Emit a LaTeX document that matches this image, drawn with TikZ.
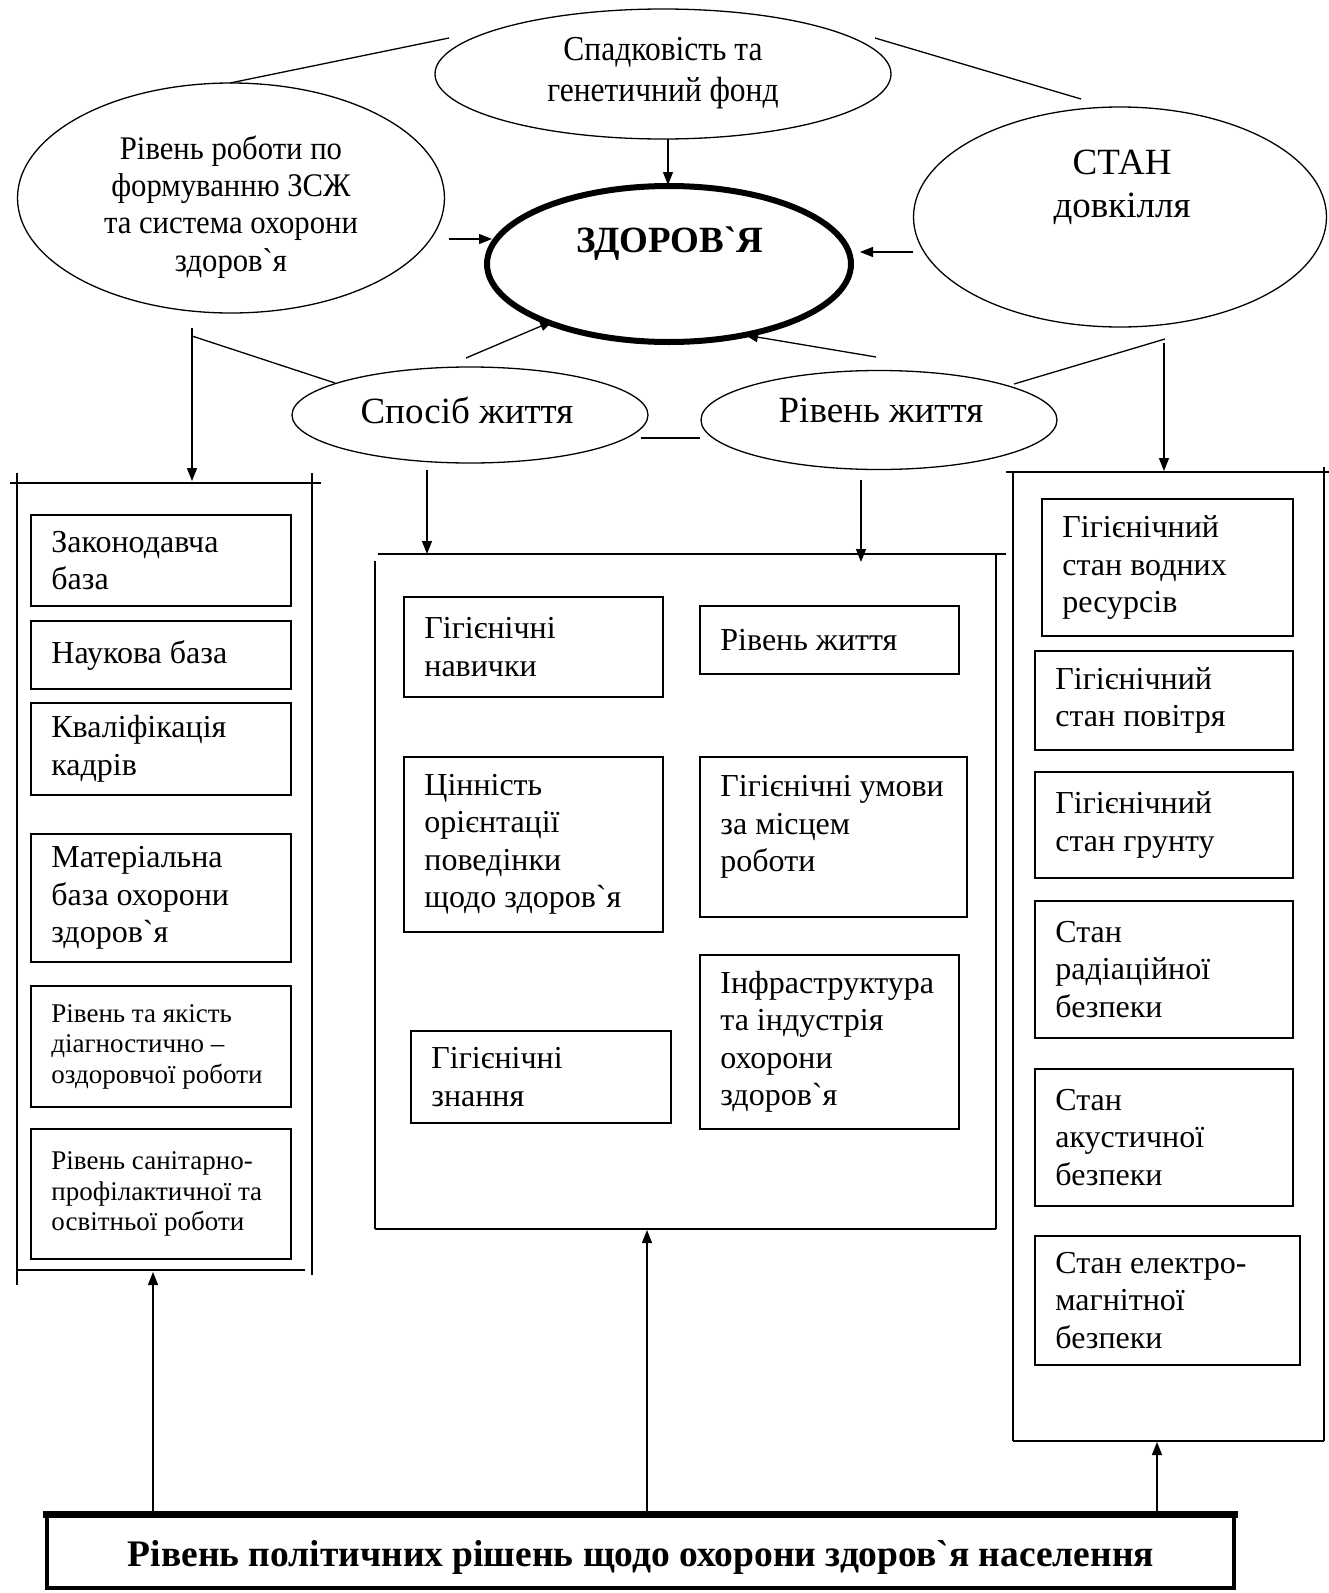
\documentclass[tikz,border=0pt]{standalone}
\usepackage{fontspec}
\setmainfont{Liberation Serif}[Ligatures=TeXOff]
\newfontfamily\elfont{Liberation Serif}[Ligatures=TeXOff,FakeStretch=0.9]
\newfontfamily\elfontb{Liberation Serif}[Ligatures=TeXOff,FakeStretch=0.93]
\usetikzlibrary{arrows.meta,shapes.geometric,calc,fit}
\begin{document}
\begin{tikzpicture}[x=1pt,y=-1pt,
  ln/.style={line width=1.3pt},
  arr/.style={line width=1.3pt,-{Triangle[length=13pt,width=10pt]}},
  ell/.style={draw,ellipse,line width=1.3pt,inner sep=0pt},
  bx/.style={draw,line width=1.6pt,inner sep=0pt},
  fr/.style={line width=1.6pt},
  bt/.style={anchor=west,align=left,inner sep=0pt,font=\fontsize{32}{37.5}\selectfont},
  st/.style={anchor=west,align=left,inner sep=0pt,font=\fontsize{27}{30.5}\selectfont},
  et/.style={align=center,inner sep=0pt}]
\useasboundingbox (0,0) rectangle (1329,1593);

% ---------- ellipses ----------
\node[ell,minimum width=456pt,minimum height=130pt] (her) at (663,74) {};
\node[et,font=\elfont\fontsize{35}{40.6}\selectfont] (hert) at (663,73) {Спадковість та\\генетичний фонд};

\node[ell,minimum width=427pt,minimum height=230pt] (zsg) at (231,198) {};
\node[et,font=\elfontb\fontsize{33}{37.3}\selectfont] (zsgt) at (231,207) {Рівень роботи по\\формуванню ЗСЖ\\та система охорони\\здоров`я};

\node[ell,line width=6pt,minimum width=364pt,minimum height=156pt] (zd) at (669,264) {};
\node[et,font=\bfseries\fontsize{37}{42}\selectfont] (zdt) at (670,244) {ЗДОРОВ`Я};

\node[ell,minimum width=413pt,minimum height=220pt] (stn) at (1120,217) {};
\node[et,font=\fontsize{37}{42.7}\selectfont] (stnt) at (1122,187) {СТАН\\довкілля};

\node[ell,minimum width=356pt,minimum height=96pt] (sp) at (470,415) {};
\node[et,font=\fontsize{37}{42}\selectfont] (spt) at (467,410) {Спосіб життя};
\node[ell,minimum width=356pt,minimum height=99pt] (rz) at (879,420) {};
\node[et,font=\fontsize{37}{42}\selectfont] (rzt) at (881,410) {Рівень життя};

% ---------- connectors at top ----------
\coordinate (a1) at (230,83); \coordinate (a2) at (449,38);
\draw[ln] (a1) -- (a2);
\coordinate (b1) at (875,38); \coordinate (b2) at (1081,99);
\draw[ln] (b1) -- (b2);
\coordinate (c1) at (449,239); \coordinate (c2) at (492,239);
\draw[arr] (c1) -- (c2);
\coordinate (d1) at (913,252); \coordinate (d2) at (860,252);
\draw[arr] (d1) -- (d2);
\coordinate (e1) at (668,139); \coordinate (e2) at (668,185);
\draw[arr] (e1) -- (e2);
\coordinate (f1) at (466,358); \coordinate (f2) at (553,321);
\draw[arr] (f1) -- (f2);
\coordinate (g1) at (876,357); \coordinate (g2) at (745,335);
\draw[arr] (g1) -- (g2);
\coordinate (h1) at (192,328); \coordinate (h2) at (192,481); \coordinate (h3) at (192,336); \coordinate (h4) at (335,383);
\draw[arr] (h1) -- (h2);
\draw[ln] (h3) -- (h4);
\coordinate (k1) at (1165,339); \coordinate (k2) at (1014,384); \coordinate (k3) at (1164,343); \coordinate (k4) at (1164,471);
\draw[ln] (k1) -- (k2);
\draw[arr] (k3) -- (k4);
\coordinate (m1) at (641,438); \coordinate (m2) at (700,438);
\draw[ln] (m1) -- (m2);
\coordinate (n1) at (427,470); \coordinate (n2) at (427,554);
\draw[arr] (n1) -- (n2);
\coordinate (p1) at (861,480); \coordinate (p2) at (861,562);
\draw[arr] (p1) -- (p2);

% ---------- left frame ----------
\draw[fr] (10,483) -- (321,483);
\draw[fr] (17,473) -- (17,1285);
\draw[fr] (312,473) -- (312,1275);
\draw[fr] (17,1270) -- (305,1270);

\node[bx,fit={(31,515) (291,606)}] (l1) {};
\node[bt] (l1t) at ($(l1.west)+(21,0)$) {Законодавча\\база};
\node[bx,fit={(31,621) (291,689)}] (l2) {};
\node[bt] (l2t) at ($(l2.west)+(21,0)$) {Наукова база};
\node[bx,fit={(31,703) (291,795)}] (l3) {};
\node[bt] (l3t) at ($(l3.west)+(21,0)$) {Кваліфікація\\кадрів};
\node[bx,fit={(31,834) (291,962)}] (l4) {};
\node[bt] (l4t) at ($(l4.west)+(21,0)$) {Матеріальна\\база охорони\\здоров`я};
\node[bx,fit={(31,986) (291,1107)}] (l5) {};
\node[st] (l5t) at ($(l5.west)+(21,0)$) {Рівень та якість\\діагностично –\\оздоровчої роботи};
\node[bx,fit={(31,1129) (291,1259)}] (l6) {};
\node[st] (l6t) at ($(l6.west)+(21,0)$) {Рівень санітарно-\\профілактичної та\\освітньої роботи};

% ---------- middle frame ----------
\draw[fr] (378,554) -- (1006,554);
\draw[fr] (375,561) -- (375,1229);
\draw[fr] (996,554) -- (996,1229);
\draw[fr] (375,1229) -- (996,1229);

\node[bx,fit={(404,597) (663,697)}] (m1b) {};
\node[bt] (m1t) at ($(m1b.west)+(21,0)$) {Гігієнічні\\навички};
\node[bx,fit={(700,606) (959,674)}] (m2b) {};
\node[bt] (m2t) at ($(m2b.west)+(21,0)$) {Рівень життя};
\node[bx,fit={(404,757) (663,932)}] (m3b) {};
\node[bt] (m3t) at ($(m3b.west)+(21,0)$) {Цінність\\орієнтації\\поведінки\\щодо здоров`я};
\node[bx,fit={(700,757) (967,917)}] (m4b) {};
\node[bt,anchor=north west] (m4t) at ($(m4b.north west)+(21,19)$) {Гігієнічні умови\\за місцем\\роботи};
\node[bx,fit={(411,1031) (671,1123)}] (m5b) {};
\node[bt] (m5t) at ($(m5b.west)+(21,0)$) {Гігієнічні\\знання};
\node[bx,fit={(700,955) (959,1129)}] (m6b) {};
\node[bt] (m6t) at ($(m6b.west)+(21,0)$) {Інфраструктура\\та індустрія\\охорони\\здоров`я};

% ---------- right frame ----------
\draw[fr] (1006,472) -- (1329,472);
\draw[fr] (1013,472) -- (1013,1441);
\draw[fr] (1324,467) -- (1324,1441);
\draw[fr] (1013,1441) -- (1324,1441);

\node[bx,fit={(1042,499) (1293,636)}] (r1) {};
\node[bt] (r1t) at ($(r1.west)+(21,0)$) {Гігієнічний\\стан водних\\ресурсів};
\node[bx,fit={(1035,651) (1293,750)}] (r2) {};
\node[bt] (r2t) at ($(r2.west)+(21,0)$) {Гігієнічний\\стан повітря};
\node[bx,fit={(1035,772) (1293,878)}] (r3) {};
\node[bt] (r3t) at ($(r3.west)+(21,0)$) {Гігієнічний\\стан грунту};
\node[bx,fit={(1035,901) (1293,1038)}] (r4) {};
\node[bt] (r4t) at ($(r4.west)+(21,0)$) {Стан\\радіаційної\\безпеки};
\node[bx,fit={(1035,1069) (1293,1206)}] (r5) {};
\node[bt] (r5t) at ($(r5.west)+(21,0)$) {Стан\\акустичної\\безпеки};
\node[bx,fit={(1035,1236) (1300,1365)}] (r6) {};
\node[bt] (r6t) at ($(r6.west)+(21,0)$) {Стан електро-\\магнітної\\безпеки};

% ---------- bottom box ----------
\node[draw,line width=4pt,inner sep=0pt,fit={(47,1516) (1234,1588)}] (pol) {};
\draw[line width=7pt] ($(pol.north west)+(-2,0)$) -- ($(pol.north east)+(2,0)$);
\node[inner sep=0pt,font=\bfseries\fontsize{37.5}{42}\selectfont] (polt) at (641,1557) {Рівень політичних рішень щодо охорони здоров`я населення};

\coordinate (q1) at (153,1513); \coordinate (q2) at (153,1272);
\draw[arr] (q1) -- (q2);
\coordinate (q3) at (647,1513); \coordinate (q4) at (647,1230);
\draw[arr] (q3) -- (q4);
\coordinate (q5) at (1157,1513); \coordinate (q6) at (1157,1442);
\draw[arr] (q5) -- (q6);
\end{tikzpicture}
\end{document}
